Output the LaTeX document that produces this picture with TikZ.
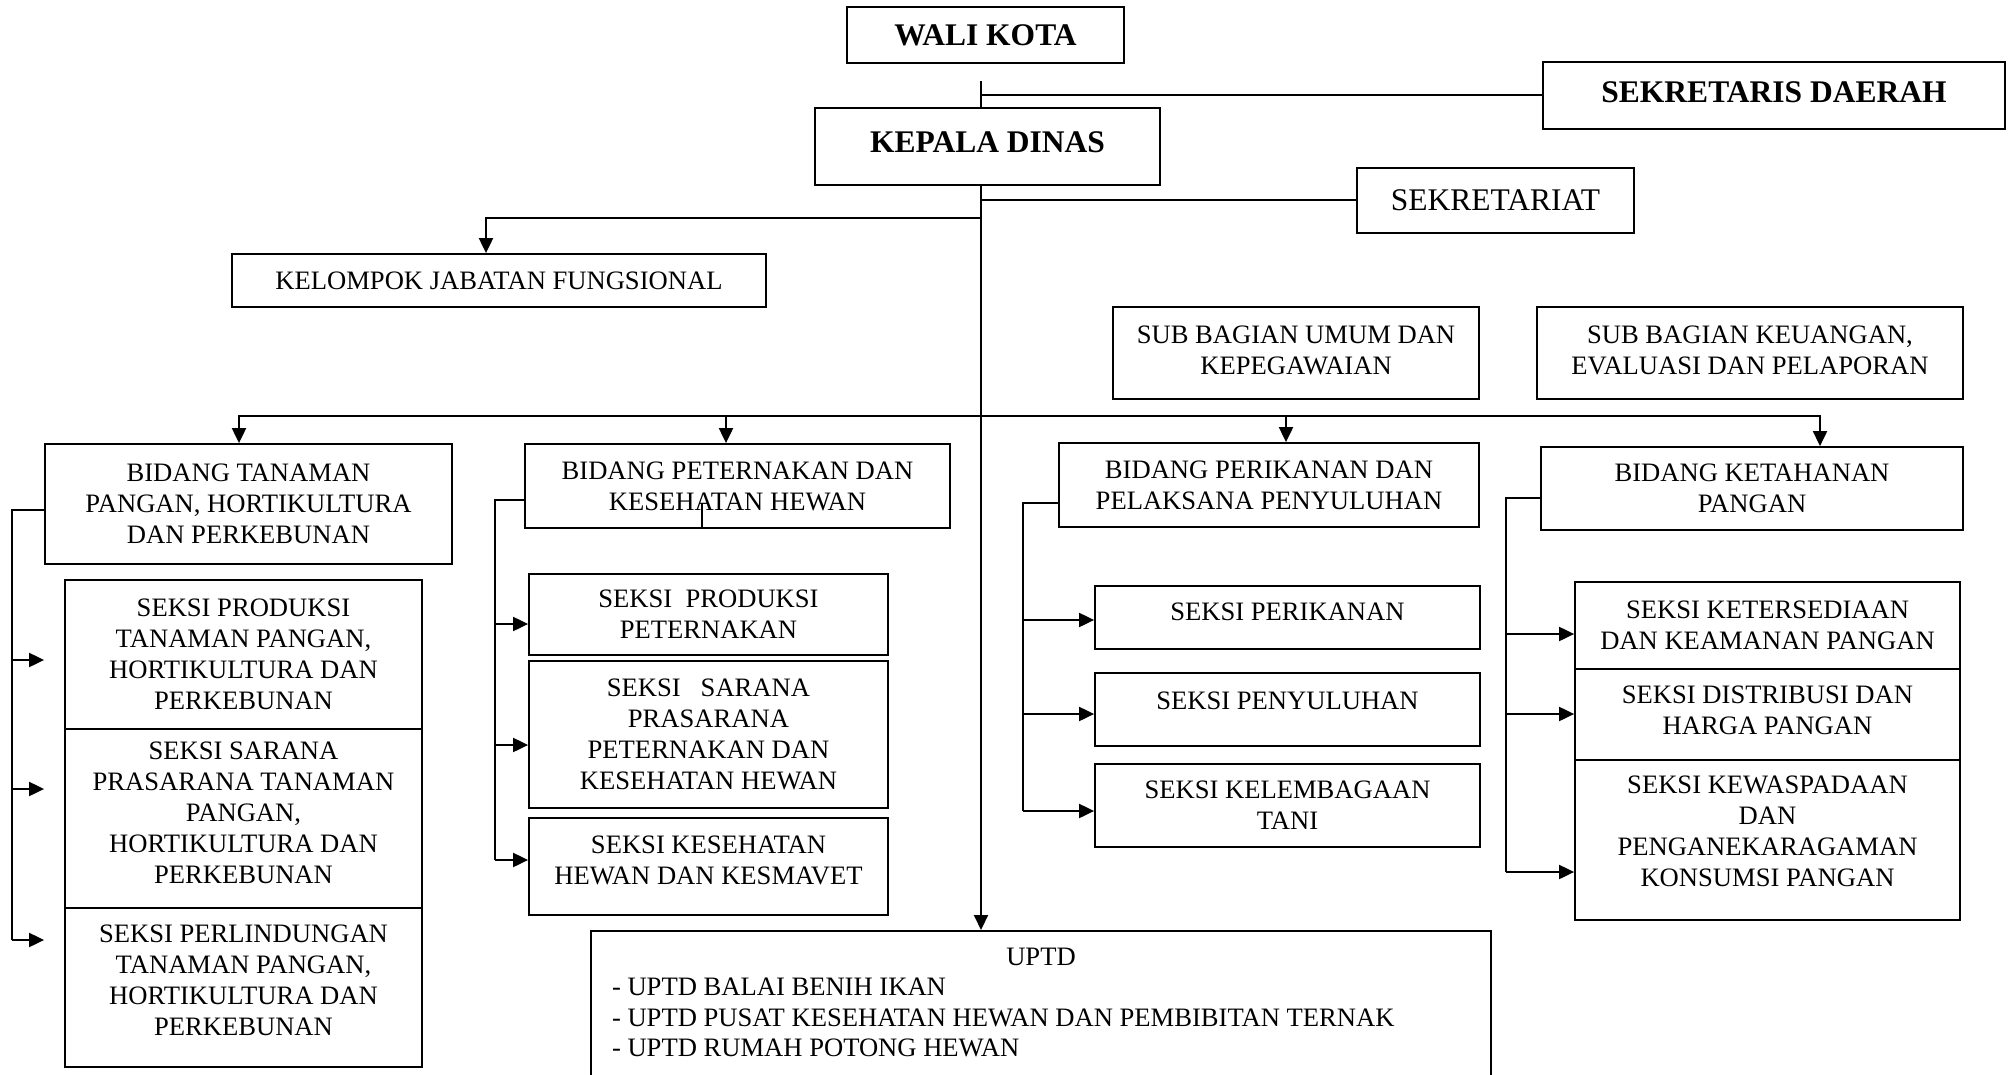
\documentclass[tikz,border=0pt]{standalone}
\usepackage{fontspec}
\setmainfont{Liberation Serif}
\usetikzlibrary{arrows.meta,calc,positioning}
\tikzset{
    every node/.style={font=\fontsize{26.6}{31}\selectfont},
    unit box/.style={draw, line width=1.8pt, align=center, inner sep=0pt},
    head box/.style={unit box, font=\bfseries\fontsize{31.5}{36}\selectfont},
    lift/.style={text depth=#1}
}

\begin{document}
\begin{tikzpicture}[
            x = 1pt, y = -1pt, % one unit per pixel, y downwards
            > = {Triangle[length=15pt,width=14pt]}, % arrow head style
            line width = 2pt
        ]
        \useasboundingbox (0,0) rectangle (2009,1075);

        % pimpinan
        \node[head box, minimum width=277pt, minimum height=56pt] (wali) at (985.5,35) {WALI KOTA};
        \node[head box, minimum width=345pt, minimum height=77pt, lift=9pt] (kepala) at (987.5,146.5) {KEPALA DINAS};
        \node[head box, minimum width=462pt, minimum height=67pt, lift=7pt] (sekda) at (1774,95.5) {SEKRETARIS DAERAH};
        \node[unit box, minimum width=277pt, minimum height=65pt, font=\fontsize{31.5}{36}\selectfont] (sekretariat) at (1495.5,200.5) {SEKRETARIAT};
        \node[unit box, minimum width=534pt, minimum height=53pt] (kelompok) at (499,280.5) {KELOMPOK JABATAN FUNGSIONAL};
        \node[unit box, minimum width=366pt, minimum height=92pt, lift=6pt] (subumum) at (1296,353) {SUB BAGIAN UMUM DAN\\KEPEGAWAIAN};
        \node[unit box, minimum width=426pt, minimum height=92pt, lift=6pt] (subkeu) at (1750,353) {SUB BAGIAN KEUANGAN,\\EVALUASI DAN PELAPORAN};

        % bidang
        \node[unit box, minimum width=407pt, minimum height=120pt] (bidtan) at (248.5,504) {BIDANG TANAMAN\\PANGAN, HORTIKULTURA\\DAN PERKEBUNAN};
        \node[unit box, minimum width=425pt, minimum height=84pt] (bidpet) at (737.5,486) {BIDANG PETERNAKAN DAN\\KESEHATAN HEWAN};
        \node[unit box, minimum width=420pt, minimum height=84pt] (bidper) at (1269,485) {BIDANG PERIKANAN DAN\\PELAKSANA PENYULUHAN};
        \node[unit box, minimum width=422pt, minimum height=83pt] (bidket) at (1752,488.5) {BIDANG KETAHANAN\\PANGAN};

        % seksi
        \node[unit box, minimum width=357pt, minimum height=149pt] (tan1) at (243.5,654.5) {SEKSI PRODUKSI\\TANAMAN PANGAN,\\HORTIKULTURA DAN\\PERKEBUNAN};
        \node[unit box, minimum width=357pt, minimum height=179pt, lift=11pt] (tan2) at (243.5,818.5) {SEKSI SARANA\\PRASARANA TANAMAN\\PANGAN,\\HORTIKULTURA DAN\\PERKEBUNAN};
        \node[unit box, minimum width=357pt, minimum height=159pt, lift=15pt] (tan3) at (243.5,987.5) {SEKSI PERLINDUNGAN\\TANAMAN PANGAN,\\HORTIKULTURA DAN\\PERKEBUNAN};

        \node[unit box, minimum width=359pt, minimum height=81pt] (pet1) at (708.5,614.5) {SEKSI\ \ PRODUKSI\\PETERNAKAN};
        \node[unit box, minimum width=359pt, minimum height=147pt] (pet2) at (708.5,734.5) {SEKSI\ \ \ SARANA\\PRASARANA\\PETERNAKAN DAN\\KESEHATAN HEWAN};
        \node[unit box, minimum width=359pt, minimum height=97pt, lift=13pt] (pet3) at (708.5,866.5) {SEKSI KESEHATAN\\HEWAN DAN KESMAVET};

        \node[unit box, minimum width=385pt, minimum height=63pt, lift=11pt] (per1) at (1287.5,617.5) {SEKSI PERIKANAN};
        \node[unit box, minimum width=385pt, minimum height=73pt, lift=17pt] (per2) at (1287.5,709.5) {SEKSI PENYULUHAN};
        \node[unit box, minimum width=385pt, minimum height=83pt] (per3) at (1287.5,805.5) {SEKSI KELEMBAGAAN\\TANI};

        \node[unit box, minimum width=385pt, minimum height=87pt] (ket1) at (1767.5,625.5) {SEKSI KETERSEDIAAN\\DAN KEAMANAN PANGAN};
        \node[unit box, minimum width=385pt, minimum height=91pt, lift=9pt] (ket2) at (1767.5,714.5) {SEKSI DISTRIBUSI DAN\\HARGA PANGAN};
        \node[unit box, minimum width=385pt, minimum height=160pt, lift=18pt] (ket3) at (1767.5,840) {SEKSI KEWASPADAAN\\DAN\\PENGANEKARAGAMAN\\KONSUMSI PANGAN};

        % uptd
        \node[unit box, anchor=north, minimum width=900pt, inner ysep=17pt, align=left, lift=40pt,
              font=\fontsize{26.6}{30.5}\selectfont] (uptd) at (1041,930)
            {\makebox[858pt]{UPTD}\\- UPTD BALAI BENIH IKAN\\- UPTD PUSAT KESEHATAN HEWAN DAN PEMBIBITAN TERNAK\\- UPTD RUMAH POTONG HEWAN};

        % garis komando
        \coordinate (spine) at (981,0);
        \coordinate (fork) at (981,218);
        \coordinate (bus) at (981,416);

        \draw ($(wali.south -| spine)+(0,17)$) -- (kepala.north -| spine);
        \draw (sekda.west -| spine) -- (sekda.west);
        \draw[->] (kepala.south -| spine) -- (uptd.north -| spine);
        \draw (sekretariat.west -| spine) -- (sekretariat.west);
        \draw[->] (fork) -| ($(kelompok.north)+(-13,0)$);

        \foreach \n/\dx in {bidtan/-9.5, bidpet/-11.5, bidper/17, bidket/68}
            \draw[->] (bus) -| ($(\n.north)+(\dx,0)$);

        \draw[line width=1.2pt] ($(bidpet.south)+(-35.5,-1)$) -- ++(0,-25);

        % bidang ke seksi
        \draw ($(bidtan.west)+(0,6)$) -| ($(tan3.west)+(-52,-47.5)$);
        \foreach \n/\dy in {tan1/5.5, tan2/-29.5, tan3/-47.5}
            \draw[->] ($(\n.west)+(-52,\dy)$) -- ++(32,0);

        \draw ($(bidpet.west)+(0,14)$) -| ($(pet3.west)+(-33,-6.5)$);
        \foreach \n/\dy in {pet1/9.5, pet2/10.5, pet3/-6.5}
            \draw[->] ($(\n.west)+(-33,\dy)$) -- ++(33,0);

        \draw ($(bidper.west)+(0,18)$) -| ($(per3.west)+(-71,5.5)$);
        \foreach \n/\dy in {per1/2.5, per2/4.5, per3/5.5}
            \draw[->] ($(\n.west)+(-71,\dy)$) -- ++(71,0);

        \draw ($(bidket.west)+(0,9.5)$) -| ($(ket3.west)+(-68,32)$);
        \foreach \n/\dy in {ket1/8.5, ket2/-0.5, ket3/32}
            \draw[->] ($(\n.west)+(-68,\dy)$) -- ++(68,0);

  \end{tikzpicture}
\end{document}
